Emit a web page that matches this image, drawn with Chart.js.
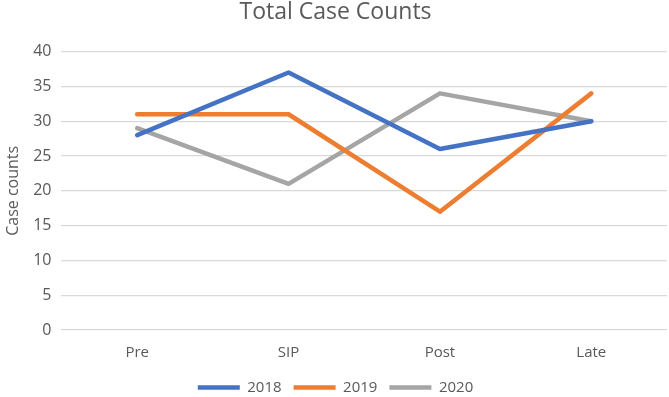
<!DOCTYPE html>
<html>
<head>
<meta charset="utf-8">
<script src="https://cdn.jsdelivr.net/npm/chart.js"></script>
<style>
  html, body { margin: 0; padding: 0; background: #fff; }
  #holder { width: 669px; height: 397px; }
</style>
</head>
<body>
<div id="holder"><canvas id="caseChart" width="669" height="397"></canvas></div>
<script>
const periods = ["Pre", "SIP", "Post", "Late"];
const counts2018 = [28, 37, 26, 30];
const counts2019 = [31, 31, 17, 34];
const counts2020 = [29, 21, 34, 30];
const yTicks = { min: 0, max: 40, step: 5 };

const fontFamily = "'Open Sans', Lato, sans-serif";
const textColor = "#595959";

function makeSet(label, data, color) {
  return {
    label: label,
    data: data,
    borderColor: color,
    backgroundColor: color,
    borderWidth: 4.5,
    borderCapStyle: "round",
    borderJoinStyle: "round",
    pointRadius: 0,
    pointHoverRadius: 0,
    tension: 0,
    fill: false,
  };
}

document.addEventListener("DOMContentLoaded", () => {
  const ctx = document.getElementById("caseChart").getContext("2d");
  new Chart(ctx, {
    type: "line",
    data: {
      labels: periods,
      datasets: [
        makeSet("2018", counts2018, "#4472C4"),
        makeSet("2019", counts2019, "#ED7D31"),
        makeSet("2020", counts2020, "#A5A5A5"),
      ],
    },
    options: {
      responsive: false,
      animation: false,
      layout: { padding: { left: 4, right: 2, top: 0, bottom: -8 } },
      plugins: {
        title: {
          display: true,
          text: "Total Case Counts",
          color: textColor,
          font: { family: fontFamily, size: 23, weight: "normal" },
          padding: { top: -1, bottom: 25 },
        },
        legend: {
          position: "bottom",
          labels: {
            usePointStyle: true,
            pointStyle: "line",
            pointStyleWidth: 42,
            color: textColor,
            font: { family: fontFamily, size: 15 },
            padding: 12,
          },
        },
        tooltip: { enabled: false },
      },
      scales: {
        x: {
          offset: true,
          grid: { display: false },
          border: { display: false },
          ticks: {
            color: textColor,
            font: { family: fontFamily, size: 15 },
            padding: 6,
          },
        },
        y: {
          min: yTicks.min,
          max: yTicks.max,
          grid: { color: "#D9D9D9", lineWidth: 1.2, drawTicks: false },
          border: { display: false },
          ticks: {
            stepSize: yTicks.step,
            color: textColor,
            font: { family: fontFamily, size: 16 },
            padding: 10,
          },
          title: {
            display: true,
            text: "Case counts",
            color: textColor,
            font: { family: fontFamily, size: 16 },
            padding: { top: 0, bottom: 0 },
          },
        },
      },
    },
  });
});
</script>
</body>
</html>
